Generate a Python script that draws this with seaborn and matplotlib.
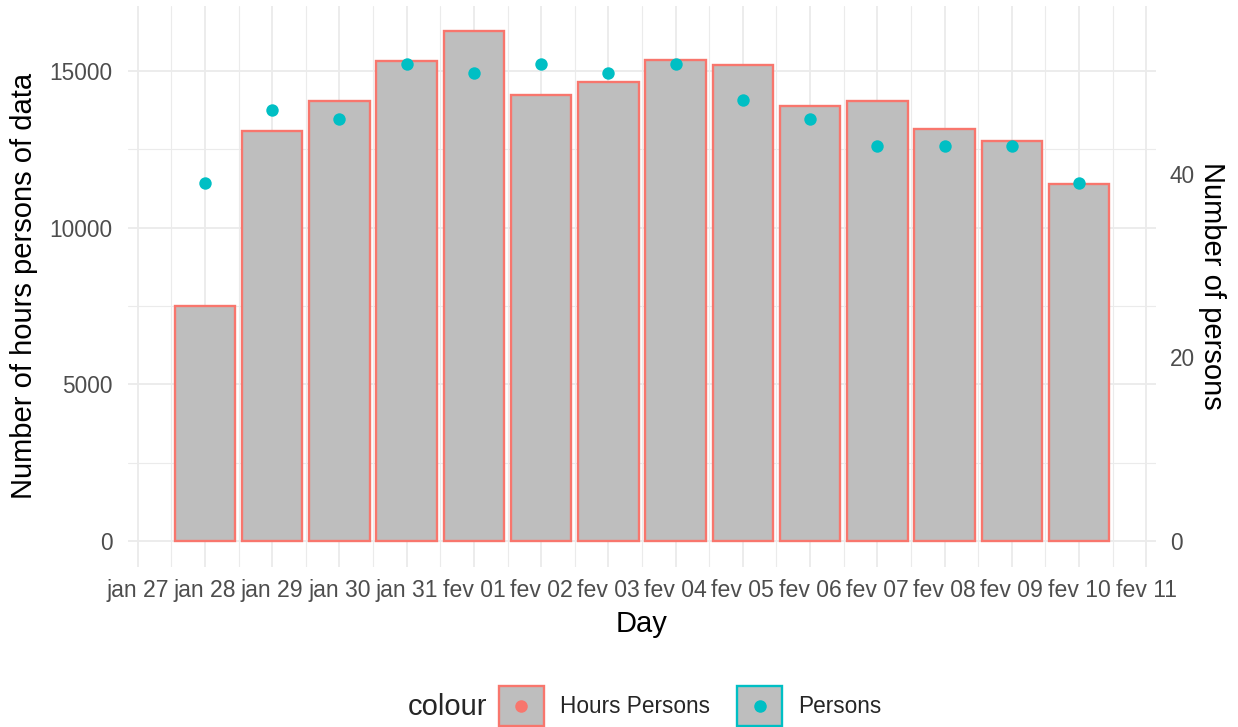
import matplotlib
matplotlib.use("Agg")
import matplotlib.pyplot as plt
import seaborn as sns
import pandas as pd
import numpy as np
from matplotlib.patches import Rectangle
from matplotlib.lines import Line2D
from matplotlib.legend_handler import HandlerTuple, HandlerLine2D
from matplotlib.ticker import FixedLocator

# ---- data ----
days = ["jan 28", "jan 29", "jan 30", "jan 31", "fev 01", "fev 02", "fev 03",
        "fev 04", "fev 05", "fev 06", "fev 07", "fev 08", "fev 09", "fev 10"]
hours = [7500, 13085, 14050, 15320, 16280, 14245, 14650,
         15340, 15180, 13885, 14050, 13150, 12755, 11405]
persons = [39, 47, 46, 52, 51, 52, 51, 52, 48, 46, 43, 43, 43, 39]
tick_labels = ["jan 27", "jan 28", "jan 29", "jan 30", "jan 31", "fev 01", "fev 02",
               "fev 03", "fev 04", "fev 05", "fev 06", "fev 07", "fev 08", "fev 09",
               "fev 10", "fev 11"]
left_ticks = [0, 5000, 10000, 15000]
right_ticks = [0, 20, 40]
coeff = 293  # hours per person (secondary axis transform)

BAR_FILL = "#BEBEBE"
RED = "#F8766D"
CYAN = "#00BFC4"
GRID = "#EBEBEB"
TXT = "#4D4D4D"

sns.set_theme(style="white")
plt.rcParams['font.family'] = ['Liberation Sans', 'DejaVu Sans']

fig = plt.figure(figsize=(12.38, 7.27), dpi=100)
ax = fig.add_axes([128 / 1238, 1 - 566.5 / 727, 1028 / 1238, 561 / 727])

pos = np.arange(len(days))
df = pd.DataFrame({"pos": pos, "day": days, "hours": hours,
                   "persons_scaled": np.array(persons) * coeff})

sns.barplot(data=df, x="pos", y="hours", native_scale=True, width=0.9,
            color=BAR_FILL, saturation=1, edgecolor=RED, linewidth=1.7,
            errorbar=None, ax=ax, zorder=2)
sns.scatterplot(data=df, x="pos", y="persons_scaled", color=CYAN, s=80,
                linewidth=0, ax=ax, zorder=3, legend=False)

hmax = max(hours)
ax.set_ylim(-0.05 * hmax, 1.05 * hmax)
ax.set_xlim(-1.145, 14.145)

xt = np.arange(-1, len(days) + 1)
ax.set_xticks(xt)
ax.set_xticklabels(tick_labels)
ax.xaxis.set_minor_locator(FixedLocator(np.arange(-0.5, len(days), 1.0)))
ax.set_yticks(left_ticks)
ax.set_yticklabels([str(v) for v in left_ticks])
ax.yaxis.set_minor_locator(FixedLocator([2500, 7500, 12500]))

ax.grid(which="major", color=GRID, linewidth=1.3, zorder=0)
ax.grid(which="minor", color=GRID, linewidth=0.8, zorder=0)
ax.set_axisbelow(True)
for s in ax.spines.values():
    s.set_visible(False)
ax.tick_params(which="both", length=0, labelsize=16.3, labelcolor=TXT)
ax.tick_params(axis="x", labelsize=16.6, pad=9)
ax.tick_params(axis="y", pad=11)

ax.set_xlabel("Day", fontsize=21, color="black", labelpad=6)
ax.set_ylabel("Number of hours persons of data", fontsize=21, color="black", labelpad=8)

sec = ax.secondary_yaxis("right", functions=(lambda y: y / coeff, lambda p: p * coeff))
sec.set_yticks(right_ticks)
sec.set_yticklabels([str(v) for v in right_ticks])
sec.tick_params(length=0, labelsize=16.3, labelcolor=TXT, pad=10)
for s in sec.spines.values():
    s.set_visible(False)
sec.set_ylabel("Number of persons", fontsize=21, color="black", rotation=-90, labelpad=22)


class CenteredMarker(HandlerLine2D):
    def create_artists(self, legend, orig_handle, xdescent, ydescent,
                       width, height, fontsize, trans):
        return super().create_artists(legend, orig_handle, xdescent, ydescent,
                                      width, height - ydescent, fontsize, trans)


# legend
handles = []
for c in [RED, CYAN]:
    handles.append((Rectangle((0, 0), 1, 1, facecolor=BAR_FILL, edgecolor=c, linewidth=1.7),
                    Line2D([], [], marker="o", linestyle="None", color=c, markersize=8)))
fig.legend(handles=handles, labels=["Hours Persons", "Persons"],
           handler_map={tuple: HandlerTuple(ndivide=1), Line2D: CenteredMarker()},
           loc="center", bbox_to_anchor=(690 / 1238, 1 - 706 / 727), ncol=2,
           frameon=False, fontsize=16.3, handlelength=2.0, handleheight=2.4,
           columnspacing=1.2, handletextpad=0.7, borderpad=0.05)
fig.text(487 / 1238, 1 - 707 / 727, "colour", fontsize=21, ha="right", va="center")

fig.savefig("out.png", dpi=100)
